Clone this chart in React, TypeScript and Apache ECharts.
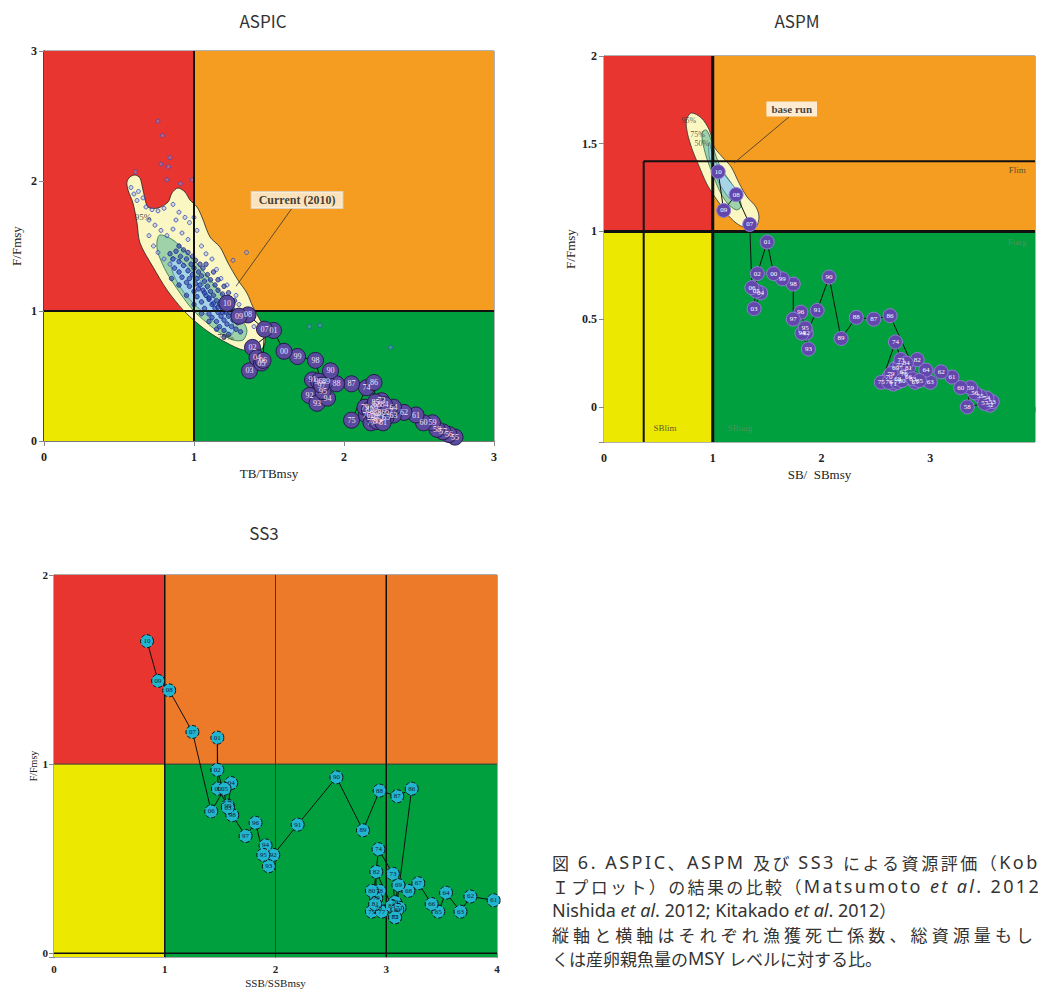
import React, { useEffect, useRef } from "react";
import * as echarts from "echarts";

const SERIF = '"Liberation Serif", "DejaVu Serif", serif';
const SANS = '"Noto Sans CJK JP", "Noto Sans", sans-serif';
const LATIN = '"Noto Sans", "Noto Sans CJK JP", sans-serif';

const TITLES = ["ASPIC", "ASPM", "SS3"];

// ---- Kobe quadrant bounds [x0, y0, x1, y1] : red, orange, yellow, green
const ASPIC_ZONES = [[0, 1, 1, 3], [1, 1, 3, 3], [0, 0, 1, 1], [1, 0, 3, 1]];
const ASPM_ZONES = [[0, 1, 1, 2], [1, 1, 3.963, 2], [0, -0.2, 1, 1], [1, -0.2, 3.963, 1]];
const SS3_ZONES = [[0, 1, 1, 2], [1, 1, 4, 2], [0, -0.02, 1, 1], [1, -0.02, 4, 1]];

// ---- reference lines [x0, y0, x1, y1]
const ASPIC_REF = [[1, 0, 1, 3], [0, 1, 3, 1]];
const ASPM_REF = [[1, -0.2, 1, 2], [0, 1, 3.963, 1]];
const ASPM_LIM = [[0.365, 1.4, 3.963, 1.4], [0.365, -0.2, 0.365, 1.4]];
const SS3_REF = [[1, -0.02, 1, 2], [3, -0.02, 3, 2], [0, 0, 4, 0]];
const SS3_THIN = [[2, -0.02, 2, 2], [0, 1, 4, 1]];

// ---- ASPIC trajectory
const ASPIC_YEARS = ["55","56","57","58","59","60","61","62","63","64","65","66","67","68","69","70","71","72","73","74","75","76","77","78","79","80","81","82","83","84","85","86","87","88","89","90","91","92","93","94","95","96","97","98","99","00","01","02","03","04","05","06","07","08","09","10"];
const ASPIC_B = [2.74,2.70,2.66,2.62,2.59,2.53,2.48,2.40,2.33,2.33,2.28,2.25,2.30,2.22,2.20,2.18,2.20,2.24,2.25,2.15,2.05,2.15,2.18,2.20,2.14,2.22,2.26,2.17,2.22,2.27,2.21,2.20,2.05,1.95,1.88,1.91,1.79,1.77,1.82,1.89,1.86,1.83,1.85,1.81,1.69,1.60,1.53,1.39,1.37,1.42,1.45,1.46,1.47,1.36,1.30,1.22];
const ASPIC_F = [0.03,0.05,0.07,0.09,0.14,0.14,0.20,0.22,0.20,0.26,0.18,0.22,0.23,0.28,0.25,0.20,0.16,0.17,0.31,0.41,0.16,0.20,0.14,0.19,0.26,0.15,0.14,0.24,0.22,0.28,0.30,0.45,0.44,0.44,0.46,0.54,0.47,0.35,0.29,0.33,0.38,0.46,0.43,0.62,0.65,0.69,0.85,0.72,0.54,0.64,0.60,0.62,0.86,0.97,0.96,1.06];

// ---- ASPIC confidence contours
const ASPIC_C95 = [[0.607,2.046],[0.64,2.023],[0.66,1.931],[0.693,1.8],[0.76,1.792],[0.827,1.838],[0.853,1.908],[0.893,1.946],[0.94,1.915],[0.973,1.854],[1.02,1.8],[1.053,1.723],[1.107,1.569],[1.173,1.492],[1.227,1.369],[1.293,1.238],[1.353,1.138],[1.393,1.031],[1.44,0.931],[1.473,0.854],[1.473,0.754],[1.44,0.7],[1.327,0.7],[1.22,0.754],[1.107,0.831],[1.02,0.908],[0.927,1.008],[0.82,1.162],[0.727,1.338],[0.64,1.523],[0.62,1.677],[0.593,1.831],[0.56,1.931],[0.553,1.992],[0.573,2.031]];
const ASPIC_C75 = [[0.773,1.585],[0.86,1.546],[0.953,1.446],[1.04,1.338],[1.127,1.215],[1.22,1.085],[1.307,0.954],[1.353,0.854],[1.327,0.777],[1.26,0.777],[1.173,0.831],[1.087,0.908],[0.993,1.008],[0.907,1.138],[0.82,1.292],[0.76,1.446],[0.753,1.531]];
const ASPIC_C50 = [[0.853,1.415],[0.927,1.369],[1.02,1.262],[1.107,1.138],[1.193,1.008],[1.26,0.908],[1.26,0.831],[1.193,0.854],[1.107,0.946],[0.993,1.062],[0.907,1.185],[0.853,1.315]];

// ---- ASPIC bootstrap estimates
const ASPIC_BOOT = [[0.76,2.46],[0.79,2.35],[0.84,2.18],[0.78,2.13],[0.83,2.11],[0.61,2.07],[0.82,2.01],[0.91,1.98],[0.99,2.01],[1.35,1.45],[1.26,1.39],[1.77,0.88],[1.84,0.89],[2.31,0.72],[0.58,1.95],[0.6,1.9],[0.63,1.92],[0.62,1.85],[0.66,1.87],[0.68,1.80],[0.72,1.78],[0.76,1.77],[0.8,1.79],[0.86,1.82],[0.9,1.76],[0.88,1.70],[0.94,1.72],[0.97,1.68],[1.0,1.72],[1.02,1.62],[0.7,1.70],[0.74,1.66],[0.78,1.62],[0.82,1.58],[0.86,1.63],[0.92,1.60],[0.96,1.55],[1.05,1.50],[1.08,1.44],[1.12,1.40],[1.15,1.32],[1.18,1.25],[1.22,1.20],[1.28,1.12],[1.3,1.05],[1.34,1.0],[1.38,0.95],[1.4,0.88],[0.7,1.58],[0.73,1.50],[0.76,1.45],[0.8,1.40],[0.84,1.36]];
const ASPIC_BOOT_CORE = [[0.84,1.44],[0.86,1.40],[0.88,1.46],[0.9,1.38],[0.91,1.42],[0.93,1.35],[0.95,1.40],[0.96,1.31],[0.98,1.36],[0.99,1.28],[1.0,1.33],[1.02,1.25],[1.03,1.30],[1.04,1.20],[1.05,1.27],[1.06,1.16],[1.07,1.23],[1.08,1.12],[1.09,1.19],[1.1,1.09],[1.11,1.15],[1.12,1.05],[1.13,1.12],[1.14,1.02],[1.15,1.08],[1.16,0.99],[1.17,1.05],[1.18,0.96],[1.19,1.02],[1.2,0.93],[1.21,0.99],[1.22,0.9],[1.23,0.96],[1.25,0.88],[1.26,0.93],[1.28,0.86],[1.29,0.91],[1.31,0.84],[0.87,1.33],[0.9,1.30],[0.92,1.26],[0.95,1.22],[0.97,1.19],[1.0,1.15],[1.02,1.11],[1.05,1.07],[1.07,1.02],[1.1,0.98],[1.12,0.95],[1.15,0.92],[1.17,0.88],[1.2,0.85],[1.23,0.82],[0.9,1.5],[0.93,1.47],[0.96,1.45],[0.99,1.42],[1.01,1.39],[1.04,1.36],[1.06,1.33],[1.09,1.28],[1.11,1.24],[1.14,1.20],[1.16,1.16],[1.19,1.13],[1.21,1.08],[1.24,1.05],[1.26,1.01],[1.29,0.98],[1.32,0.94],[0.97,1.25],[1.01,1.21],[1.03,1.17],[1.07,1.14],[1.1,1.10],[1.13,1.06],[1.16,1.03],[1.19,0.99],[1.24,0.99],[1.27,0.95],[1.08,1.36],[1.13,1.30],[1.16,1.24],[1.2,1.19],[1.23,1.14],[1.27,1.08],[1.3,1.0],[1.35,0.93],[0.85,1.25],[0.9,1.2],[0.95,1.12],[1.0,1.05],[1.05,0.98],[1.1,0.92],[1.15,0.86],[1.2,0.8]];

// ---- ASPM trajectory
const ASPM_YEARS = ["52","53","54","55","56","57","58","59","60","61","62","63","64","65","66","67","68","69","70","71","72","73","74","75","76","77","78","79","80","81","82","83","84","85","86","87","88","89","90","91","92","93","94","95","96","97","98","99","00","01","02","03","04","05","06","07","08","09","10"];
const ASPM_B = [3.55,3.57,3.52,3.46,3.41,3.50,3.34,3.37,3.28,3.20,3.10,3.00,2.96,2.86,2.80,2.75,2.70,2.68,2.62,2.66,2.72,2.73,2.68,2.55,2.62,2.70,2.76,2.64,2.74,2.80,2.88,2.84,2.78,2.90,2.63,2.48,2.32,2.18,2.07,1.96,1.86,1.88,1.82,1.85,1.81,1.74,1.74,1.64,1.56,1.50,1.41,1.38,1.44,1.40,1.36,1.34,1.215,1.10,1.05];
const ASPM_F = [0.01,0.03,0.05,0.06,0.08,0.02,0.00,0.11,0.11,0.17,0.20,0.14,0.21,0.14,0.17,0.20,0.16,0.22,0.17,0.13,0.24,0.27,0.37,0.14,0.14,0.14,0.19,0.19,0.15,0.22,0.27,0.16,0.25,0.15,0.52,0.50,0.51,0.39,0.74,0.55,0.42,0.33,0.42,0.45,0.54,0.50,0.70,0.73,0.76,0.94,0.76,0.56,0.65,0.66,0.68,1.04,1.21,1.12,1.34];

const ASPM_C95 = [[0.804,1.675],[0.895,1.647],[0.968,1.578],[1.014,1.481],[1.087,1.425],[1.169,1.368],[1.242,1.276],[1.315,1.197],[1.397,1.14],[1.425,1.083],[1.397,1.026],[1.306,1.02],[1.215,1.048],[1.123,1.105],[1.059,1.162],[0.995,1.219],[0.941,1.276],[0.877,1.368],[0.813,1.464],[0.767,1.561],[0.758,1.635]];
const ASPM_C75 = [[0.941,1.578],[0.986,1.521],[1.032,1.425],[1.087,1.35],[1.169,1.276],[1.242,1.197],[1.26,1.14],[1.215,1.123],[1.132,1.162],[1.059,1.236],[0.995,1.333],[0.941,1.425],[0.904,1.521],[0.904,1.567]];
const ASPM_C50 = [[0.968,1.51],[1.014,1.407],[1.123,1.311],[1.215,1.236],[1.224,1.179],[1.169,1.179],[1.078,1.254],[1.014,1.333],[0.968,1.425]];

// ---- SS3 trajectory
const SS3_YEARS = ["61","62","63","64","65","66","67","68","69","70","71","72","73","74","75","76","77","78","79","80","81","82","83","84","85","86","87","88","89","90","91","92","93","94","95","96","97","98","99","00","01","02","03","04","05","06","07","08","09","10"];
const SS3_B = [3.97,3.76,3.67,3.54,3.47,3.41,3.29,3.20,3.11,3.08,3.12,3.08,3.06,2.93,2.87,2.93,2.96,2.94,2.91,2.87,2.90,2.91,3.05,3.10,3.08,3.23,3.10,2.94,2.79,2.55,2.20,1.98,1.94,1.91,1.89,1.82,1.73,1.61,1.57,1.48,1.475,1.475,1.57,1.60,1.54,1.42,1.25,1.04,0.94,0.84];
const SS3_F = [0.28,0.30,0.22,0.32,0.22,0.26,0.37,0.33,0.36,0.27,0.24,0.19,0.42,0.55,0.22,0.24,0.22,0.33,0.29,0.33,0.26,0.43,0.25,0.23,0.19,0.87,0.83,0.86,0.65,0.93,0.68,0.52,0.46,0.57,0.52,0.69,0.62,0.73,0.78,0.87,1.14,0.97,0.77,0.90,0.87,0.75,1.17,1.39,1.44,1.65];

// ---- annotations
const ASPIC_NOTES = [{ name: "Current (2010)", value: [1.687, 1.854] }];
const ASPIC_LEADER = [[1.653, 1.79, 1.28, 1.19]];
const ASPIC_PCT = [{ name: "95%", value: [0.66, 1.72] }, { name: "75%", value: [1.21, 0.8] }];
const ASPM_NOTES = [{ name: "base run", value: [1.726, 1.698] }];
const ASPM_LEADER = [[1.70, 1.652, 1.196, 1.39]];
const ASPM_PCT = [{ name: "95%", value: [0.78, 1.635] }, { name: "75%", value: [0.86, 1.555] }, { name: "50%", value: [0.9, 1.5] }];
const ASPM_REFTXT_DARK = [{ name: "Flim", value: [3.8, 1.35] }, { name: "SBlim", value: [0.56, -0.12] }];
const ASPM_REFTXT_FAINT = [{ name: "Ftarg", value: [3.8, 0.94] }, { name: "SBtarg", value: [1.25, -0.12] }];

// ---- caption (segment style key, text)
const CAPTION: [string, string][][] = [
  [["n", "図 "], ["l", "6. ASPIC"], ["n", "、"], ["l", "ASPM "], ["n", "及び "], ["l", "SS3 "], ["n", "による資源評価（"], ["l", "Kobe"]],
  [["n", "Ｉプロット）の結果の比較（"], ["l", "Matsumoto "], ["i", "et al"], ["l", ". 2012;"]],
  [["l", "Nishida "], ["i", "et al"], ["l", ". 2012; Kitakado "], ["i", "et al"], ["l", ". 2012"], ["n", "）"]],
  [["n", "縦軸と横軸はそれぞれ漁獲死亡係数、総資源量もし"]],
  [["n", "くは産卵親魚量の"], ["l", "MSY "], ["n", "レベルに対する比。"]],
];
const CAPTION_RIGHT = [1050, 1046, 0, 1033, 0];

const RED = "#e8352f";
const ORANGE_A = "#f49d21";
const ORANGE_S = "#ec7a29";
const YELLOW = "#ece800";
const GREEN = "#00a03e";

function zonesSeries(idx: number, data: number[][], colors: string[]) {
  return {
    type: "custom", xAxisIndex: idx, yAxisIndex: idx, z: 1, silent: true, data,
    renderItem: (params: any, api: any) => {
      const a = api.coord([api.value(0), api.value(3)]);
      const b = api.coord([api.value(2), api.value(1)]);
      return {
        type: "rect",
        shape: { x: a[0], y: a[1], width: b[0] - a[0], height: b[1] - a[1] },
        style: { fill: colors[params.dataIndex] },
      };
    },
  };
}

function segSeries(idx: number, data: number[][], stroke: string, width: number, z = 6) {
  return {
    type: "custom", xAxisIndex: idx, yAxisIndex: idx, z, silent: true, data,
    renderItem: (_params: any, api: any) => {
      const a = api.coord([api.value(0), api.value(1)]);
      const b = api.coord([api.value(2), api.value(3)]);
      return {
        type: "line",
        shape: { x1: a[0], y1: a[1], x2: b[0], y2: b[1] },
        style: { stroke, lineWidth: width },
      };
    },
  };
}

function polySeries(idx: number, pts: number[][], fill: string, stroke: string, z: number) {
  return {
    type: "custom", xAxisIndex: idx, yAxisIndex: idx, z, silent: true, data: pts,
    renderItem: (params: any, api: any) => {
      if (params.dataIndex !== 0) return null;
      return {
        type: "polygon",
        shape: { points: pts.map((p) => api.coord(p)), smooth: 0.3 },
        style: { fill, stroke, lineWidth: 0.8 },
      };
    },
  };
}

function textSeries(idx: number, data: any[], label: any, z = 12) {
  return {
    type: "scatter", xAxisIndex: idx, yAxisIndex: idx, z, silent: true,
    symbol: "circle", symbolSize: 1, itemStyle: { color: "rgba(0,0,0,0)" }, data,
    label: { show: true, position: "inside", formatter: "{b}", ...label },
  };
}

function trajSeries(idx: number, years: string[], xs: number[], ys: number[], sym: any, label: any) {
  return {
    type: "line", xAxisIndex: idx, yAxisIndex: idx, z: 9, silent: true,
    showAllSymbol: true, symbol: "circle", symbolSize: sym.size, itemStyle: sym.item,
    lineStyle: { color: "#111", width: 1 },
    data: years.map((y, i) => ({ name: y, value: [xs[i], ys[i]] })),
    label: { show: true, position: "inside", formatter: "{b}", ...label },
  };
}

function halfFmt(v: number) {
  return Math.abs(v * 2 - Math.round(v * 2)) < 1e-6 ? String(v) : "";
}
function intFmt(v: number) {
  return Math.abs(v - Math.round(v)) < 1e-6 ? String(Math.round(v)) : "";
}

const axisCommon = (fs: number) => ({
  type: "value",
  splitLine: { show: false },
  axisLine: { show: true, lineStyle: { color: "#777", width: 1 } },
  axisTick: { show: true, length: 5, lineStyle: { color: "#888" } },
  axisLabel: { color: "#222", fontFamily: SERIF, fontSize: fs, fontWeight: "bold" },
  nameLocation: "middle",
  nameTextStyle: { color: "#222", fontFamily: SERIF, fontSize: fs + 1 },
});

const CAP_FONTS: Record<string, string> = {
  n: `17px ${SANS}`,
  l: `18px ${LATIN}`,
  i: `italic 18px ${LATIN}`,
};

function captionElements(): any[] {
  const out: any[] = [];
  const canvas = document.createElement("canvas");
  const ctx = canvas.getContext("2d");
  CAPTION.forEach((segs, k) => {
    const y = 862 + k * 24;
    const x0 = 552;
    const right = CAPTION_RIGHT[k];
    const chars: { ch: string; font: string; w: number }[] = [];
    segs.forEach(([key, txt]) => {
      const font = CAP_FONTS[key];
      Array.from(txt).forEach((ch) => {
        let w = 17;
        if (ctx) {
          ctx.font = font;
          w = ctx.measureText(ch).width;
        }
        chars.push({ ch, font, w });
      });
    });
    const natural = chars.reduce((s, c) => s + c.w, 0);
    const extra = right > 0 && chars.length > 1 ? Math.max(0, (right - x0 - natural) / (chars.length - 1)) : 0;
    if (extra === 0) {
      let x = x0;
      let i = 0;
      segs.forEach(([key, txt]) => {
        const n = Array.from(txt).length;
        out.push({ type: "text", x, y, style: { text: txt, fill: "#333", font: CAP_FONTS[key], textVerticalAlign: "middle" } });
        for (let j = 0; j < n; j++) x += chars[i + j].w;
        i += n;
      });
    } else {
      let x = x0;
      chars.forEach((c) => {
        if (c.ch.trim() !== "") {
          out.push({ type: "text", x, y, style: { text: c.ch, fill: "#333", font: c.font, textVerticalAlign: "middle" } });
        }
        x += c.w + extra;
      });
    }
  });
  return out;
}

export default function App() {
  const ref = useRef<HTMLDivElement>(null);
  useEffect(() => {
    if (!ref.current) return;
    const chart = echarts.init(ref.current, undefined, { renderer: "svg" });

    const graphic: any[] = [
      { type: "text", x: 263, y: 20, style: { text: TITLES[0], fill: "#333", font: `17px ${SANS}`, textAlign: "center", textVerticalAlign: "middle" } },
      { type: "text", x: 797, y: 20, style: { text: TITLES[1], fill: "#333", font: `17px ${SANS}`, textAlign: "center", textVerticalAlign: "middle" } },
      { type: "text", x: 264, y: 532, style: { text: TITLES[2], fill: "#333", font: `17px ${SANS}`, textAlign: "center", textVerticalAlign: "middle" } },
      ...captionElements(),
    ];

    const option: any = {
      animation: false,
      backgroundColor: "#ffffff",
      grid: [
        { left: 44, top: 51, width: 450, height: 390, show: true, borderColor: "#666", borderWidth: 1, backgroundColor: "transparent" },
        { left: 604, top: 56, width: 434, height: 386, show: true, borderColor: "#666", borderWidth: 1, backgroundColor: "transparent" },
        { left: 54, top: 575, width: 443, height: 383, show: true, borderColor: "#555", borderWidth: 1, backgroundColor: "transparent" },
      ],
      xAxis: [
        { ...axisCommon(12), gridIndex: 0, min: 0, max: 3, interval: 1, name: "TB/TBmsy", nameGap: 26, axisLabel: { ...axisCommon(12).axisLabel, margin: 10 } },
        { ...axisCommon(12), gridIndex: 1, min: 0, max: 3.963, interval: 1, name: "SB/  SBmsy", nameGap: 26, axisLabel: { ...axisCommon(12).axisLabel, margin: 10, formatter: intFmt } },
        { ...axisCommon(11), gridIndex: 2, min: 0, max: 4, interval: 1, name: "SSB/SSBmsy", nameGap: 20, axisLabel: { ...axisCommon(11).axisLabel, margin: 6 }, nameTextStyle: { color: "#222", fontFamily: SERIF, fontSize: 11 } },
      ],
      yAxis: [
        { ...axisCommon(12), gridIndex: 0, min: 0, max: 3, interval: 1, name: "F/Fmsy", nameGap: 21, axisLabel: { ...axisCommon(12).axisLabel, margin: 7 }, axisLine: { show: true, lineStyle: { color: "#222", width: 1.5 } } },
        { ...axisCommon(12), gridIndex: 1, min: -0.2, max: 2, splitNumber: 4, name: "F/Fmsy", nameGap: 27, axisLabel: { ...axisCommon(12).axisLabel, margin: 7, formatter: halfFmt } },
        { ...axisCommon(11), gridIndex: 2, min: -0.02, max: 2, splitNumber: 2, name: "F/Fmsy", nameGap: 14, axisLabel: { ...axisCommon(11).axisLabel, margin: 6, formatter: intFmt }, nameTextStyle: { color: "#222", fontFamily: SERIF, fontSize: 10 } },
      ],
      graphic,
      series: [
        // ASPIC
        zonesSeries(0, ASPIC_ZONES, [RED, ORANGE_A, YELLOW, GREEN]),
        polySeries(0, ASPIC_C95, "#fbf7c2", "#222", 2),
        polySeries(0, ASPIC_C75, "#9fd2a8", "#2f6f4a", 3),
        polySeries(0, ASPIC_C50, "#a5d5e6", "#3b7f8a", 4),
        {
          type: "scatter", xAxisIndex: 0, yAxisIndex: 0, z: 5, silent: true,
          symbolSize: 4, data: ASPIC_BOOT,
          itemStyle: { color: "rgba(150,165,230,0.45)", borderColor: "#3a4cc0", borderWidth: 1 },
        },
        {
          type: "scatter", xAxisIndex: 0, yAxisIndex: 0, z: 5, silent: true,
          symbolSize: 4.5, data: ASPIC_BOOT_CORE,
          itemStyle: { color: "rgba(40,60,170,0.75)", borderColor: "#1c2a8e", borderWidth: 1 },
        },
        segSeries(0, ASPIC_REF, "#111", 2),
        segSeries(0, ASPIC_LEADER, "#333", 0.8, 7),
        trajSeries(0, ASPIC_YEARS, ASPIC_B, ASPIC_F,
          { size: 16, item: { color: "#5b4b9f", borderColor: "#231a4a", borderWidth: 1 } },
          { color: "#f6e2f6", fontSize: 8, fontFamily: SERIF }),
        textSeries(0, ASPIC_PCT, { color: "#222", fontSize: 9, fontFamily: SERIF }),
        textSeries(0, ASPIC_NOTES, { color: "#111", fontSize: 12, fontWeight: "bold", fontFamily: SERIF, backgroundColor: "#fdf4e2", borderColor: "#ddd", borderWidth: 1, padding: [2, 7] }),

        // ASPM
        zonesSeries(1, ASPM_ZONES, [RED, ORANGE_A, YELLOW, GREEN]),
        polySeries(1, ASPM_C95, "#fbf7c2", "#333", 2),
        polySeries(1, ASPM_C75, "#9fd2a8", "#2f6f4a", 3),
        polySeries(1, ASPM_C50, "#a5d5e6", "#3b7f8a", 4),
        segSeries(1, ASPM_REF, "#111", 3),
        segSeries(1, ASPM_LIM, "#111", 2),
        segSeries(1, ASPM_LEADER, "#333", 0.8, 7),
        trajSeries(1, ASPM_YEARS, ASPM_B, ASPM_F,
          { size: 14, item: { color: "#6247ad", borderColor: "#8f7fd4", borderWidth: 1 } },
          { color: "#ffffff", fontSize: 7, fontFamily: SERIF }),
        textSeries(1, ASPM_PCT, { color: "#333", fontSize: 8, fontFamily: SERIF }),
        textSeries(1, ASPM_NOTES, { color: "#111", fontSize: 11, fontWeight: "bold", fontFamily: SERIF, backgroundColor: "#ffffff", padding: [2, 5] }),
        textSeries(1, ASPM_REFTXT_DARK, { fontSize: 9, fontFamily: SERIF, color: "#333" }),
        textSeries(1, ASPM_REFTXT_FAINT, { fontSize: 9, fontFamily: SERIF, color: "#5f8f6b" }),

        // SS3
        zonesSeries(2, SS3_ZONES, [RED, ORANGE_S, YELLOW, GREEN]),
        segSeries(2, SS3_THIN, "#3a3a3a", 1),
        segSeries(2, SS3_REF, "#111", 1.5),
        trajSeries(2, SS3_YEARS, SS3_B, SS3_F,
          { size: 13, item: { color: "#22b5cf", borderColor: "#111", borderWidth: 1, borderType: "dashed" } },
          { color: "#123", fontSize: 7, fontFamily: SERIF }),
      ],
    };
    chart.setOption(option);
    return () => chart.dispose();
  }, []);
  return (
    <div
      ref={ref}
      style={{ position: "absolute", left: 0, top: 0, width: 1038, height: 989, overflow: "hidden" }}
    />
  );
}
